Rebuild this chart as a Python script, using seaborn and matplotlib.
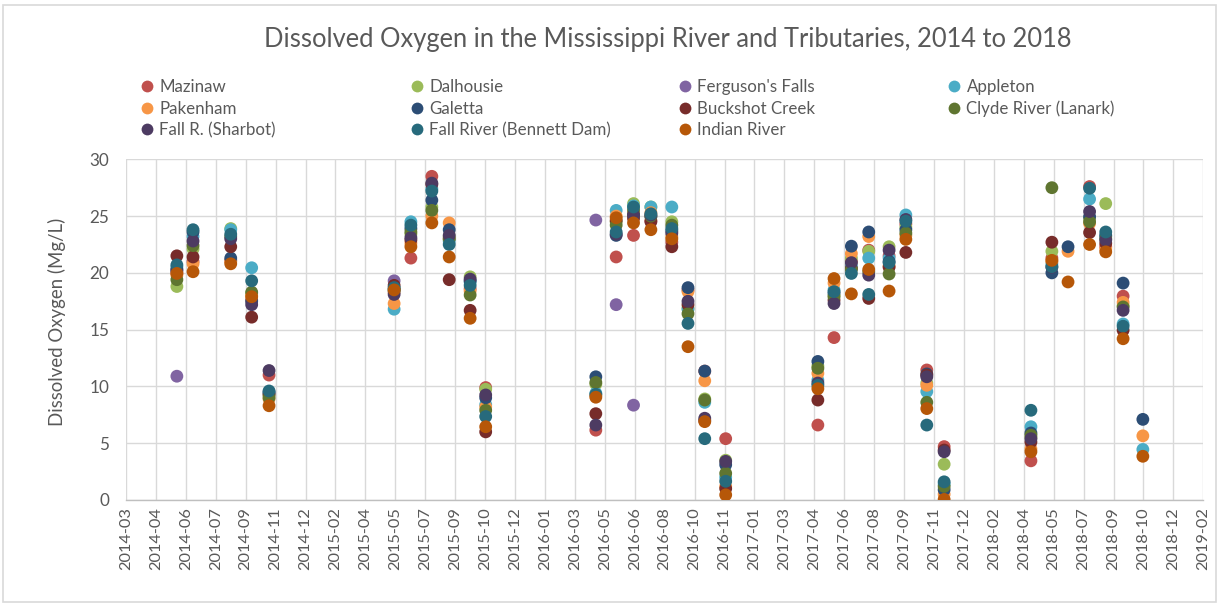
import numpy as np
import pandas as pd
import matplotlib
matplotlib.use("Agg")
import matplotlib.pyplot as plt
import matplotlib.dates as mdates
from matplotlib.lines import Line2D
from matplotlib.patches import Rectangle
import seaborn as sns

nan = np.nan

# Sampling dates (one field visit per month, May-November)
sample_dates = [
    "2014-05-25", "2014-06-21", "2014-08-23", "2014-09-27", "2014-10-26",
    "2015-05-23", "2015-06-20", "2015-07-25", "2015-08-23", "2015-09-27", "2015-10-23",
    "2016-04-24", "2016-05-28", "2016-06-26", "2016-07-25", "2016-08-29", "2016-09-25",
    "2016-10-23", "2016-11-27",
    "2017-04-30", "2017-05-27", "2017-06-25", "2017-07-24", "2017-08-27", "2017-09-24",
    "2017-10-29", "2017-11-27",
    "2018-04-21", "2018-05-26", "2018-06-22", "2018-07-28", "2018-08-24", "2018-09-22",
    "2018-10-25",
]

# Dissolved oxygen (mg/L) per station
mazinaw = [20.0, 21.0, 21.1, 17.6, 11.0,
           18.3, 21.3, 28.5, 23.0, 18.6, 9.9,
           6.15, 21.4, 23.3, 24.6, 22.7, 18.5, 11.35, 5.4,
           6.6, 14.3, 21.0, 22.0, 21.5, 24.3, 11.45, 4.7,
           3.45, 21.3, nan, 27.6, 22.3, 17.95, nan]
dalhousie = [18.8, 22.1, 23.9, 18.2, 9.2,
             18.4, 23.4, 25.8, 23.2, 19.65, 9.75,
             10.2, 24.5, 26.1, 25.8, 24.5, 16.9, 8.9, 3.5,
             11.8, 18.0, 21.3, 21.9, 22.3, 24.0, 10.3, 3.15,
             5.5, 21.9, nan, 24.8, 26.1, 17.1, nan]
fergusons_falls = [10.9, nan, nan, nan, nan,
                   19.3, nan, nan, nan, nan, nan,
                   24.65, 17.2, 8.35, nan, nan, nan, nan, nan,
                   nan, nan, nan, nan, nan, nan, nan, nan,
                   nan, nan, nan, nan, nan, nan, nan]
appleton = [20.5, 23.2, 23.8, 20.45, 9.4,
            16.8, 24.5, 27.4, 22.8, 19.2, 8.4,
            9.4, 25.5, 25.9, 25.8, 25.8, 16.8, 8.6, 2.0,
            10.55, 18.5, 20.6, 21.3, 21.3, 25.1, 9.55, 1.4,
            6.45, 20.8, nan, 26.5, 23.2, 15.5, 4.45]
pakenham = [19.8, 20.8, 21.0, 18.0, 8.9,
            17.3, 22.6, 25.0, 24.4, 18.4, 8.2,
            9.2, 25.0, 25.2, 25.3, 23.2, 18.35, 10.5, 1.2,
            11.15, 19.1, 21.7, 23.2, 20.6, 23.3, 10.1, 0.5,
            4.5, 21.0, 21.9, 24.35, 22.1, 17.4, 5.65]
galetta = [20.3, 23.6, 21.3, 17.5, 9.5,
           18.5, 23.9, 26.4, 23.8, 19.3, 9.0,
           10.85, 23.3, 25.1, 24.95, 23.7, 18.7, 11.35, 3.1,
           12.2, 18.2, 22.35, 23.6, 21.0, 23.8, 11.1, 0.9,
           5.9, 20.0, 22.3, 24.95, 23.3, 19.1, 7.1]
buckshot_creek = [21.5, 21.4, 22.3, 16.1, 9.3,
                  18.9, 22.9, 27.8, 19.4, 16.7, 6.0,
                  7.6, 24.6, 24.8, 24.5, 22.3, 17.2, 7.0, 1.0,
                  8.8, 17.6, 20.4, 17.75, 20.5, 21.8, 11.0, 4.4,
                  5.1, 22.7, nan, 23.55, 22.6, 14.95, nan]
clyde_river = [19.4, 22.4, 23.2, 18.3, 9.0,
               18.6, 23.6, 25.5, 23.0, 18.05, 7.9,
               10.35, 24.2, 25.5, 25.0, 24.2, 16.4, 8.8, 2.35,
               11.6, 17.9, 20.3, 20.1, 19.9, 23.5, 8.6, 1.2,
               5.7, 27.5, nan, 24.5, 23.0, 17.0, nan]
fall_r_sharbot = [20.2, 22.8, 23.0, 17.2, 11.4,
                  18.1, 23.1, 27.9, 23.3, 19.45, 9.25,
                  6.6, 23.4, 25.1, 25.1, 23.5, 17.5, 7.2, 3.4,
                  10.3, 17.3, 20.9, 19.8, 22.0, 24.7, 10.85, 4.25,
                  5.4, 20.5, nan, 25.4, 22.9, 16.7, nan]
fall_river_bennett = [20.7, 23.8, 23.4, 19.3, 9.6,
                      18.7, 24.2, 27.2, 22.5, 18.9, 7.35,
                      9.3, 23.6, 25.8, 25.2, 23.9, 15.55, 5.4, 1.65,
                      10.1, 18.35, 19.95, 18.1, 20.9, 24.55, 6.6, 1.6,
                      7.9, 20.55, nan, 27.45, 23.6, 15.3, nan]
indian_river = [19.95, 20.1, 20.8, 17.9, 8.3,
                18.5, 22.3, 24.4, 21.4, 16.0, 6.45,
                9.05, 24.85, 24.4, 23.8, 23.0, 13.5, 6.9, 0.45,
                9.8, 19.5, 18.15, 20.3, 18.4, 22.95, 8.05, 0.05,
                4.25, 21.1, 19.2, 22.5, 21.85, 14.2, 3.85]

sites = ["Mazinaw", "Dalhousie", "Ferguson's Falls", "Appleton", "Pakenham",
         "Galetta", "Buckshot Creek", "Clyde River (Lanark)", "Fall R. (Sharbot)",
         "Fall River (Bennett Dam)", "Indian River"]
series = [mazinaw, dalhousie, fergusons_falls, appleton, pakenham, galetta,
          buckshot_creek, clyde_river, fall_r_sharbot, fall_river_bennett, indian_river]
colors = ["#C0504D", "#9BBB59", "#8064A2", "#4BACC6", "#F79646", "#2C4D75",
          "#772C2A", "#5F7530", "#4D3B62", "#276A7C", "#B65708"]

frames = [pd.DataFrame({"date": pd.to_datetime(sample_dates), "do": vals, "site": name})
          for name, vals in zip(sites, series)]
df = pd.concat(frames, ignore_index=True).dropna()

sns.set_theme(style="white")
plt.rcParams["font.family"] = ["Lato", "DejaVu Sans"]
text_color = "#595959"
grid_color = "#D9D9D9"

fig = plt.figure(figsize=(12.26, 6.05), dpi=100)
ax = fig.add_axes([126 / 1226, 1 - 500 / 605, (1203.3 - 126) / 1226, (500 - 159.3) / 605])

sns.scatterplot(data=df, x="date", y="do", hue="site", hue_order=sites,
                palette=colors, s=85, linewidth=0, alpha=1.0, legend=False,
                ax=ax, zorder=3)

start = pd.Timestamp("2014-03-01")
ticks = pd.date_range(start, periods=37, freq="50D")
ax.set_xlim(ticks[0], ticks[-1])
ax.set_xticks(ticks)
ax.xaxis.set_major_formatter(mdates.DateFormatter("%Y-%m"))
ax.set_ylim(0, 30)
ax.set_yticks(range(0, 31, 5))

ax.grid(True, color=grid_color, linewidth=1.0, zorder=0)
ax.set_axisbelow(True)
for side in ["top", "right", "left"]:
    ax.spines[side].set_visible(False)
ax.spines["bottom"].set_color("#BFBFBF")
ax.spines["bottom"].set_linewidth(1.0)

ax.tick_params(axis="x", labelrotation=90, length=0, pad=5, labelsize=11.8, labelcolor=text_color)
ax.tick_params(axis="y", length=0, pad=12, labelsize=12.3, labelcolor=text_color)
ax.set_xlabel("")
ax.set_ylabel("")

fig.text(57 / 1226, 1 - 322 / 605, "Dissolved Oxygen (Mg/L)", rotation=90,
         ha="center", va="center", fontsize=13.4, color=text_color)
fig.text(668 / 1226, 1 - 39 / 605,
         "Dissolved Oxygen in the Mississippi River and Tributaries, 2014 to 2018",
         ha="center", va="center", fontsize=18.4, color=text_color)

# Legend laid out as four fixed-position columns, filled row by row
col_x = [140, 410, 678, 947]
for c in range(4):
    idx = list(range(c, len(sites), 4))
    handles = [Line2D([], [], marker="o", linestyle="none", markersize=8.5,
                      markerfacecolor=colors[i], markeredgewidth=0) for i in idx]
    labels = [sites[i] for i in idx]
    fig.legend(handles, labels, loc="upper left",
               bbox_to_anchor=(col_x[c] / 1226, 1 - 79 / 605),
               frameon=False, fontsize=12.2, labelcolor=text_color,
               handlelength=0.8, handletextpad=0.35, labelspacing=0.33,
               borderpad=0, borderaxespad=0)

fig.patches.append(Rectangle((3 / 1226, 3 / 605), 1213 / 1226, 597 / 605,
                             transform=fig.transFigure, fill=False,
                             edgecolor=grid_color, linewidth=1.2))

fig.savefig("out.png", dpi=100)
